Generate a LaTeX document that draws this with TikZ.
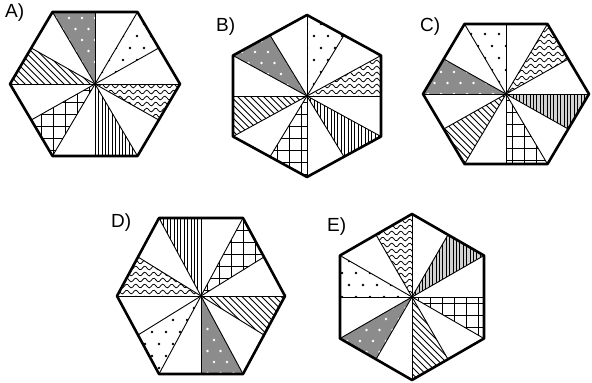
\documentclass[tikz,border=0pt]{standalone}
\usepackage{fontspec}
\setmainfont{Liberation Sans}
\tikzset{
  hexline/.style={line width=2.6pt, line join=round},
  rayline/.style={line width=0.9pt},
  patline/.style={line width=0.75pt},
  gridline/.style={line width=0.95pt},
  lbl/.style={font=\fontsize{19}{22}\selectfont, inner sep=0pt, anchor=base west},
}
\newcommand\flathex[5]{%
  \coordinate (#1-c) at (#2,#3);
  \coordinate (#1-0) at ({#2+#4},{#3});
  \coordinate (#1-1) at ({#2+0.75*#4},{#3-0.5*#5});
  \coordinate (#1-2) at ({#2+0.5*#4},{#3-#5});
  \coordinate (#1-3) at ({#2},{#3-#5});
  \coordinate (#1-4) at ({#2-0.5*#4},{#3-#5});
  \coordinate (#1-5) at ({#2-0.75*#4},{#3-0.5*#5});
  \coordinate (#1-6) at ({#2-#4},{#3});
  \coordinate (#1-7) at ({#2-0.75*#4},{#3+0.5*#5});
  \coordinate (#1-8) at ({#2-0.5*#4},{#3+#5});
  \coordinate (#1-9) at ({#2},{#3+#5});
  \coordinate (#1-10) at ({#2+0.5*#4},{#3+#5});
  \coordinate (#1-11) at ({#2+0.75*#4},{#3+0.5*#5});
}
\newcommand\pointyhex[5]{%
  \coordinate (#1-c) at (#2,#3);
  \coordinate (#1-0) at ({#2+#4},{#3});
  \coordinate (#1-1) at ({#2+#4},{#3-0.5*#5});
  \coordinate (#1-2) at ({#2+0.5*#4},{#3-0.75*#5});
  \coordinate (#1-3) at ({#2},{#3-#5});
  \coordinate (#1-4) at ({#2-0.5*#4},{#3-0.75*#5});
  \coordinate (#1-5) at ({#2-#4},{#3-0.5*#5});
  \coordinate (#1-6) at ({#2-#4},{#3});
  \coordinate (#1-7) at ({#2-#4},{#3+0.5*#5});
  \coordinate (#1-8) at ({#2-0.5*#4},{#3+0.75*#5});
  \coordinate (#1-9) at ({#2},{#3+#5});
  \coordinate (#1-10) at ({#2+0.5*#4},{#3+0.75*#5});
  \coordinate (#1-11) at ({#2+#4},{#3+0.5*#5});
}
% patterns, drawn relative to the hexagon centre
\newcommand\pvert{\foreach \i in {-95,-91.6,...,95} \draw[patline] (\i,-100) -- (\i,100);}
\newcommand\pvertg{\fill[gray!35] (-100,-100) rectangle (100,100);\pvert}
\newcommand\pdiag{\foreach \i in {-200,-193.5,...,200} \draw[patline] ({\i-100},-100) -- ({\i+100},100);}
\newcommand\pgrid{\foreach \i in {-102,-90,...,102} {\draw[gridline] (\i,-110) -- (\i,110); \draw[gridline] (-110,\i) -- (110,\i);}}
\newcommand\pdots{\foreach \j in {-9,...,9} \foreach \i in {-8,...,8} \fill ({\i*14+mod(\j+10,2)*7},{\j*12}) circle (1.4);}
\newcommand\pgdots{\fill[black!45] (-100,-100) rectangle (100,100);
  \foreach \j in {-10,...,10} \foreach \i in {-9,...,9} \fill[white] ({\i*13+mod(\j+10,2)*6.5},{\j*11}) circle (1.3);}
\newcommand\pwave{\foreach \j in {-100,-94,...,100} \draw[patline] plot[domain=-100:100, samples=121, smooth] (\x, {\j+1.9*sin(\x*40)});}
% slice: hexagon name, first point, second point, pattern
\newcommand\slice[4]{%
  \begin{scope}
    \clip (#1-c) -- (#1-#2) -- (#1-#3) -- cycle;
    \begin{scope}[shift={(#1-c)}] #4 \end{scope}
  \end{scope}}
\newcommand\hexframe[1]{%
  \foreach \k in {0,...,11} \draw[rayline] (#1-c) -- (#1-\k);
  \draw[hexline] (#1-0) -- (#1-2) -- (#1-4) -- (#1-6) -- (#1-8) -- (#1-10) -- cycle;}
\newcommand\hexframep[1]{%
  \foreach \k in {0,...,11} \draw[rayline] (#1-c) -- (#1-\k);
  \draw[hexline] (#1-1) -- (#1-3) -- (#1-5) -- (#1-7) -- (#1-9) -- (#1-11) -- cycle;}
\begin{document}
\begin{tikzpicture}[x=1pt, y=-1pt]
\useasboundingbox[fill=white] (0,0) rectangle (592,383);

% ---------- A ----------
\flathex{A}{95}{84}{85}{72}
\slice{A}{3}{4}{\pgdots}
\slice{A}{1}{2}{\pdots}
\slice{A}{11}{0}{\pwave}
\slice{A}{9}{10}{\pvert}
\slice{A}{7}{8}{\pgrid}
\slice{A}{5}{6}{\pdiag}
\hexframe{A}
\node[lbl] (la) at (5,17) {A)};

% ---------- B ----------
\pointyhex{B}{307}{96}{74}{81}
\slice{B}{2}{3}{\pdots}
\slice{B}{0}{1}{\pwave}
\slice{B}{10}{11}{\pvert}
\slice{B}{8}{9}{\pgrid}
\slice{B}{6}{7}{\pdiag}
\slice{B}{4}{5}{\pgdots}
\hexframep{B}
\node[lbl] (lb) at (216,31) {B)};

% ---------- C ----------
\flathex{C}{506}{94}{83}{70}
\slice{C}{3}{4}{\pdots}
\slice{C}{1}{2}{\pwave}
\slice{C}{11}{0}{\pvertg}
\slice{C}{9}{10}{\pgrid}
\slice{C}{7}{8}{\pdiag}
\slice{C}{5}{6}{\pgdots}
\hexframe{C}
\node[lbl] (lc) at (420,31) {C)};

% ---------- D ----------
\flathex{D}{201}{296}{84}{78}
\slice{D}{3}{4}{\pvert}
\slice{D}{1}{2}{\pgrid}
\slice{D}{11}{0}{\pdiag}
\slice{D}{9}{10}{\pgdots}
\slice{D}{7}{8}{\pdots}
\slice{D}{5}{6}{\pwave}
\hexframe{D}
\node[lbl] (ld) at (111,227) {D)};

% ---------- E ----------
\pointyhex{E}{412}{297}{72}{83}
\slice{E}{3}{4}{\pwave}
\slice{E}{1}{2}{\pvertg}
\slice{E}{11}{0}{\pgrid}
\slice{E}{9}{10}{\pdiag}
\slice{E}{7}{8}{\pgdots}
\slice{E}{5}{6}{\pdots}
\hexframep{E}
\node[lbl] (le) at (327,231) {E)};
\end{tikzpicture}
\end{document}
